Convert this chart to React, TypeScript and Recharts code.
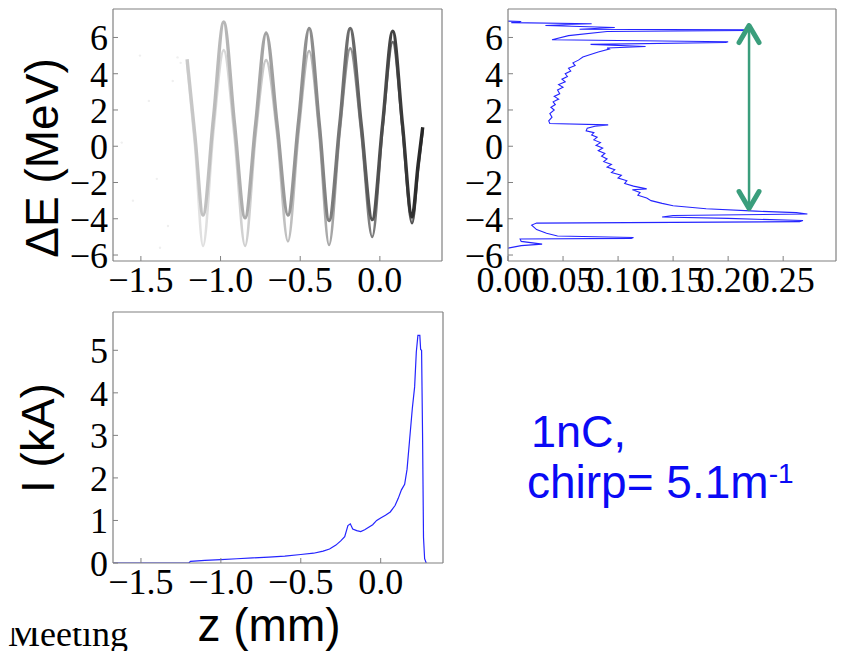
import React from "react";
import { ComposedChart, LineChart, Line, Scatter, XAxis, YAxis, ReferenceLine } from "recharts";

// longitudinal phase space: outer (darker) and inner (lighter) trace
const bandZ = [-1.21, -1.16, -1.11, -1.045, -0.98, -0.913, -0.846, -0.78, -0.714, -0.645, -0.577, -0.51, -0.444, -0.38, -0.319, -0.252, -0.186, -0.117, -0.048, 0.017, 0.081, 0.142, 0.202, 0.24, 0.269];
const outerE = [4.8, 0.5, -3.8, 1.5, 6.85, 1.3, -3.95, 1.2, 6.25, 1.2, -3.8, 1.4, 6.5, 1.2, -4.1, 1.2, 6.5, 1.2, -4.05, 1.2, 6.35, 1.2, -3.9, -1.0, 1.05];
const innerE = [4.6, 0.0, -5.5, 0.8, 5.3, 0.6, -5.5, 0.6, 4.75, 0.7, -5.25, 0.8, 5.25, 0.7, -5.45, 0.8, 5.4, 0.8, -5.0, 1.0, 5.75, 1.0, -4.25, -1.3, 0.9];
// faint stray particles left of the bunch
const haloZ = [-1.62, -1.506, -1.45, -1.38, -1.4, -1.3, -1.25, -1.27, -1.55, -1.33];
const haloE = [0.2, 5.0, 2.5, -5.6, -1.8, 3.6, 4.6, 4.9, -3.0, -4.4];

// energy spectrum trace, top to bottom
const specW = [0.0, 0.012, 0.003, 0.076, 0.034, 0.097, 0.065, 0.219, 0.218, 0.09, 0.055, 0.04, 0.2, 0.198, 0.075, 0.125, 0.09, 0.092, 0.082, 0.068, 0.064, 0.059, 0.061, 0.055, 0.057, 0.052, 0.054, 0.049, 0.052, 0.046, 0.05, 0.045, 0.047, 0.042, 0.046, 0.041, 0.043, 0.039, 0.042, 0.038, 0.04, 0.037, 0.038, 0.091, 0.079, 0.072, 0.071, 0.078, 0.076, 0.081, 0.078, 0.084, 0.08, 0.086, 0.082, 0.088, 0.085, 0.09, 0.087, 0.094, 0.09, 0.097, 0.094, 0.103, 0.1, 0.108, 0.106, 0.114, 0.126, 0.113, 0.12, 0.118, 0.126, 0.13, 0.14, 0.15, 0.18, 0.225, 0.262, 0.272, 0.15, 0.14, 0.2, 0.268, 0.265, 0.026, 0.0215, 0.026, 0.035, 0.045, 0.114, 0.112, 0.011, 0.012, 0.031, 0.012, 0.0];
const specE = [6.9, 6.88, 6.82, 6.76, 6.66, 6.55, 6.45, 6.42, 6.38, 6.33, 6.1, 5.87, 5.76, 5.72, 5.62, 5.5, 5.42, 5.36, 5.2, 4.92, 4.75, 4.6, 4.45, 4.3, 4.15, 4.0, 3.85, 3.7, 3.55, 3.4, 3.25, 3.1, 2.9, 2.75, 2.6, 2.45, 2.3, 2.15, 2.0, 1.8, 1.6, 1.4, 1.25, 1.18, 1.1, 1.0, 0.85, 0.75, 0.62, 0.5, 0.35, 0.2, 0.05, -0.1, -0.25, -0.4, -0.55, -0.7, -0.85, -1.0, -1.15, -1.3, -1.45, -1.6, -1.75, -1.9, -2.05, -2.2, -2.35, -2.4, -2.55, -2.7, -2.85, -3.0, -3.15, -3.28, -3.45, -3.58, -3.66, -3.74, -3.82, -3.9, -3.98, -4.1, -4.16, -4.24, -4.35, -4.6, -4.8, -4.95, -5.03, -5.08, -5.12, -5.25, -5.4, -5.48, -5.62];

// current profile
const profZ = [-1.675, -1.2, -1.19, -1.1, -1.0, -0.9, -0.8, -0.7, -0.6, -0.5, -0.42, -0.36, -0.32, -0.28, -0.25, -0.225, -0.205, -0.19, -0.175, -0.15, -0.125, -0.1, -0.075, -0.05, -0.025, 0.0, 0.03, 0.06, 0.09, 0.11, 0.13, 0.15, 0.165, 0.18, 0.198, 0.2125, 0.223, 0.233, 0.245, 0.25, 0.256, 0.262, 0.268, 0.275, 0.285];
const profI = [0, 0, 0.04, 0.06, 0.08, 0.1, 0.12, 0.14, 0.16, 0.2, 0.23, 0.28, 0.33, 0.42, 0.52, 0.62, 0.88, 0.92, 0.8, 0.76, 0.74, 0.78, 0.84, 0.9, 1.0, 1.06, 1.12, 1.2, 1.35, 1.52, 1.72, 1.85, 2.2, 2.85, 3.63, 4.14, 4.96, 5.35, 5.35, 5.02, 5.0, 3.05, 0.6, 0.1, 0];

const zTicks = [-1.5, -1.0, -0.5, 0.0];
const eTicks = [-6, -4, -2, 0, 2, 4, 6];
const wTicks = [0, 0.05, 0.1, 0.15, 0.2, 0.25];
const iTicks = [0, 1, 2, 3, 4, 5];

const Z_DOMAIN = [-1.675, 0.39];
const E_DOMAIN = [-6.33, 7.57];
const W_DOMAIN = [0, 0.298];
const I_DOMAIN = [0, 5.9];

const arrowAt = 0.219;
const arrowTop = 6.82;
const arrowBottom = -3.6;

const outerBand = bandZ.map((z, i) => ({ z, e: outerE[i] }));
const innerBand = bandZ.map((z, i) => ({ z, e: innerE[i] }));
const halo = haloZ.map((z, i) => ({ z, e: haloE[i] }));
const spectrum = specW.map((w, i) => ({ w, e: specE[i] }));
const profile = profZ.map((z, i) => ({ z, i: profI[i] }));

const FRAME = "#808080";
const BLUE = "#2424ff";
const GREEN = "#3a9e7c";
const tickFont = { fontSize: 36, fill: "#000", fontFamily: "Liberation Serif" };

// axis bands around the plot: 40px for labelled sides, 4px for bare sides
const AX = 40;
const BARE = 4;

const fmt = (d: number) => (v: number) => (v < 0 ? "\u2212" : "") + Math.abs(v).toFixed(d);

function frame(xKey: string, xDomain: number[], xTicks: number[], xDigits: number, yDomain: number[], yTicks: number[], yDigits: number) {
  const line = { stroke: FRAME, strokeWidth: 1.2 };
  const tl = { stroke: FRAME, strokeWidth: 1 };
  return [
    <XAxis key="xb" xAxisId="b" type="number" dataKey={xKey} domain={xDomain} ticks={xTicks} allowDataOverflow height={AX} interval={0}
      tickSize={-5} tickMargin={10} tickFormatter={fmt(xDigits)} tick={tickFont} axisLine={line} tickLine={tl} />,
    <XAxis key="xt" xAxisId="t" orientation="top" type="number" domain={xDomain} ticks={xTicks} allowDataOverflow height={BARE}
      tickSize={-5} tick={false} axisLine={line} tickLine={tl} />,
    <YAxis key="yl" yAxisId="l" type="number" domain={yDomain} ticks={yTicks} allowDataOverflow width={AX} interval={0}
      tickSize={-5} tickMargin={10} tickFormatter={fmt(yDigits)} tick={tickFont} axisLine={line} tickLine={tl} />,
    <YAxis key="yr" yAxisId="r" orientation="right" type="number" domain={yDomain} ticks={yTicks} allowDataOverflow width={BARE}
      tickSize={-5} tick={false} axisLine={line} tickLine={tl} />,
  ];
}

// plot box (left, top, right, bottom) inside a chart of given size -> chart margin
const boxMargin = (w: number, h: number, l: number, t: number, r: number, b: number) => ({
  left: l - AX, top: t - BARE, right: w - r - BARE, bottom: h - b - AX,
});

function Arrow(props: any) {
  const { x1, y1, y2 } = props;
  const top = Math.min(y1, y2);
  const bot = Math.max(y1, y2);
  return (
    <g stroke={GREEN} fill="none" strokeLinecap="round" strokeLinejoin="round">
      <line x1={x1} y1={top + 2} x2={x1} y2={bot - 2} strokeWidth={2.5} />
      <polyline points={`${x1 - 10},${top + 20} ${x1},${top + 3} ${x1 + 10},${top + 20}`} strokeWidth={5} />
      <polyline points={`${x1 - 10},${bot - 20} ${x1},${bot - 3} ${x1 + 10},${bot - 20}`} strokeWidth={5} />
    </g>
  );
}

const Dot = (p: any) => <circle cx={p.cx} cy={p.cy} r={1.2} fill="#efefef" />;

function PhaseSpace() {
  return (
    <ComposedChart width={450} height={300} margin={boxMargin(450, 300, 113, 9, 442, 261)}>
      <defs>
        <linearGradient id="band-outer" x1="0" y1="0" x2="1" y2="0">
          <stop offset="0%" stopColor="#c9c9c9" />
          <stop offset="55%" stopColor="#8a8a8a" />
          <stop offset="100%" stopColor="#262626" />
        </linearGradient>
        <linearGradient id="band-inner" x1="0" y1="0" x2="1" y2="0">
          <stop offset="0%" stopColor="#e6e6e6" />
          <stop offset="55%" stopColor="#b4b4b4" />
          <stop offset="100%" stopColor="#4a4a4a" />
        </linearGradient>
      </defs>
      {frame("z", Z_DOMAIN, zTicks, 1, E_DOMAIN, eTicks, 0)}
      <Scatter xAxisId="b" yAxisId="l" data={halo} dataKey="e" shape={Dot} isAnimationActive={false} />
      <Line xAxisId="b" yAxisId="l" data={innerBand} dataKey="e" type="monotone" stroke="url(#band-inner)" strokeWidth={2.6} dot={false} isAnimationActive={false} />
      <Line xAxisId="b" yAxisId="l" data={outerBand} dataKey="e" type="monotone" stroke="url(#band-outer)" strokeWidth={3.4} dot={false} isAnimationActive={false} />
    </ComposedChart>
  );
}

function Spectrum() {
  return (
    <LineChart width={406} height={300} margin={boxMargin(406, 300, 68, 9, 396, 261)}>
      {frame("w", W_DOMAIN, wTicks, 2, E_DOMAIN, eTicks, 0)}
      <Line xAxisId="b" yAxisId="l" data={spectrum} dataKey="e" type="linear" stroke={BLUE} strokeWidth={1.1} dot={false} isAnimationActive={false} />
      <ReferenceLine xAxisId="b" yAxisId="l" segment={[{ x: arrowAt, y: arrowTop }, { x: arrowAt, y: arrowBottom }]} shape={Arrow} />
    </LineChart>
  );
}

function Current() {
  return (
    <LineChart width={460} height={351} margin={boxMargin(460, 351, 113, 12, 443, 263)}>
      {frame("z", Z_DOMAIN, zTicks, 1, I_DOMAIN, iTicks, 0)}
      <Line xAxisId="b" yAxisId="l" data={profile} dataKey="i" type="linear" stroke={BLUE} strokeWidth={1.2} dot={false} isAnimationActive={false} />
    </LineChart>
  );
}

export default function App() {
  const sans = "Liberation Sans, Arial, sans-serif";
  return (
    <div style={{ position: "absolute", left: 0, top: 0, width: 846, height: 651, background: "#fff", overflow: "hidden" }}>
      <div style={{ position: "absolute", left: 0, top: 0 }}><PhaseSpace /></div>
      <div style={{ position: "absolute", left: 440, top: 0 }}><Spectrum /></div>
      <div style={{ position: "absolute", left: 0, top: 300 }}><Current /></div>
      <svg width={846} height={651} style={{ position: "absolute", left: 0, top: 0, pointerEvents: "none" }}>
        <defs>
          <clipPath id="cut-meeting">
            <rect x={0} y={628} width={200} height={30} />
          </clipPath>
        </defs>
        <text transform="translate(58,158) rotate(-90)" textAnchor="middle" fontFamily={sans} fontSize={46}>ΔE (MeV)</text>
        <text transform="translate(54,438) rotate(-90)" textAnchor="middle" fontFamily={sans} fontSize={46}>I (kA)</text>
        <text x={269} y={641} textAnchor="middle" fontFamily={sans} fontSize={46}>z (mm)</text>
        <text x={8} y={646} fontFamily="Liberation Serif" fontSize={36} clipPath="url(#cut-meeting)">Meeting</text>
        <text x={531} y={447} fontFamily={sans} fontSize={45} fill="#0a0af5">1nC,</text>
        <text x={527} y={498} fontFamily={sans} fontSize={46} fill="#0a0af5">
          chirp= 5.1m<tspan fontSize={28} dy={-15}>-1</tspan>
        </text>
      </svg>
    </div>
  );
}
